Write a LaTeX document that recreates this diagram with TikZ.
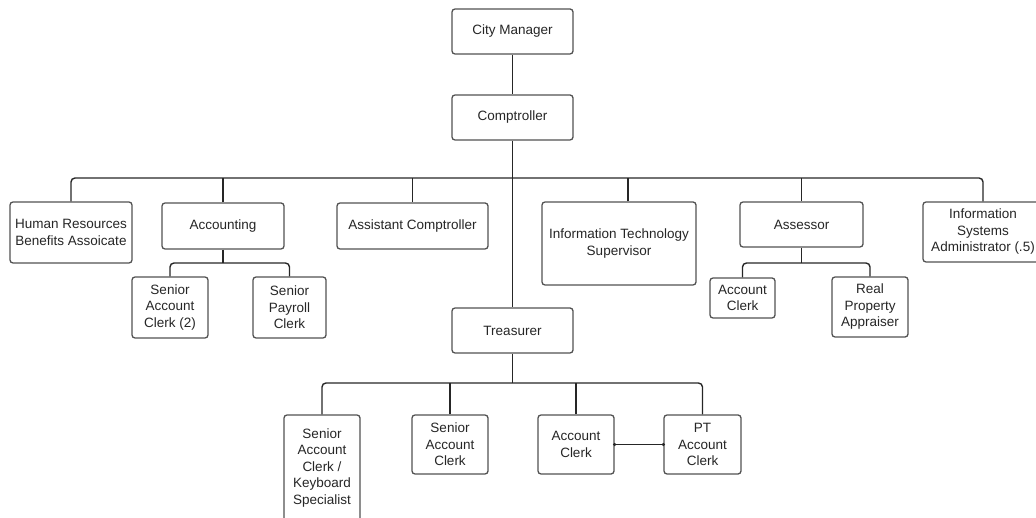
\documentclass[tikz,border=0pt]{standalone}
\usepackage{fontspec}
\setmainfont{Liberation Sans}
\begin{document}
\begin{tikzpicture}[x=1pt,y=-1pt,
  box/.style={draw=black!68, line width=1.3pt, rounded corners=3pt, fill=white,
    align=center, text=black!85, font=\fontsize{13.5}{16.5}\selectfont, inner sep=0pt},
  link/.style={draw=black!85, line width=1.4pt, rounded corners=4pt},
  joint/.style={fill=black!85, circle, inner sep=0pt, minimum size=3.5pt}]
\useasboundingbox (0,0) rectangle (1036,518);

% top of the hierarchy
\node[box, minimum width=121, minimum height=45] (cm) at (512.5,31.5) {City Manager};
\node[box, minimum width=121, minimum height=45] (comp) at (512.5,117.5) {Comptroller};

% departments under the comptroller
\node[box, minimum width=122, minimum height=61] (hr) at (71,232.5) {Human Resources\\Benefits Assoicate};
\node[box, minimum width=122, minimum height=46] (acc) at (223,226) {Accounting};
\node[box, minimum width=151, minimum height=46] (asst) at (412.5,226) {Assistant Comptroller};
\node[box, minimum width=154, minimum height=83] (its) at (619,243.5) {Information Technology\\Supervisor};
\node[box, minimum width=123, minimum height=45] (ass) at (801.5,224.5) {Assessor};
\node[box, minimum width=120, minimum height=60] (isa) at (983,232) {Information\\Systems\\Administrator (.5)};

% accounting staff
\node[box, minimum width=76, minimum height=61] (sac2) at (170,307.5) {Senior\\Account\\Clerk (2)};
\node[box, minimum width=73, minimum height=61] (spc) at (289.5,307.5) {Senior\\Payroll\\Clerk};

% assessor staff
\node[box, minimum width=65, minimum height=40] (aac) at (742.5,298) {Account\\Clerk};
\node[box, minimum width=76, minimum height=60] (rpa) at (870,307) {Real\\Property\\Appraiser};

% treasurer and staff
\node[box, minimum width=121, minimum height=45] (treas) at (512.5,330.5) {Treasurer};
\node[box, minimum width=76, minimum height=106] (sacks) at (322,468) {Senior\\Account\\Clerk /\\Keyboard\\Specialist};
\node[box, minimum width=76, minimum height=59] (tsac) at (450,444.5) {Senior\\Account\\Clerk};
\node[box, minimum width=76, minimum height=59] (tac) at (576,444.5) {Account\\Clerk};
\node[box, minimum width=77, minimum height=59] (tpt) at (702.5,444.5) {PT\\Account\\Clerk};

% connectors
\draw[link] (cm.south) -- (comp.north);
\draw[link] (comp.south) -- (treas.north);
\coordinate (busL) at (0,178);
\draw[link] (hr.north) |- (isa.north |- busL) -- (isa.north);
\draw[link] (acc.north) -- (acc.north |- busL);
\draw[link] (asst.north) -- (asst.north |- busL);
\draw[link] ([xshift=9pt]its.north) -- ([xshift=9pt]its.north |- busL);
\draw[link] (ass.north) -- (ass.north |- busL);

\coordinate (busA) at (0,263);
\draw[link] (acc.south) -- (acc.south |- busA);
\draw[link] (sac2.north) |- (spc.north |- busA) -- (spc.north);

\draw[link] (ass.south) -- (ass.south |- busA);
\draw[link] (aac.north) |- (rpa.north |- busA) -- (rpa.north);

\coordinate (busT) at (0,383);
\draw[link] (treas.south) -- (treas.south |- busT);
\draw[link] (sacks.north) |- (tpt.north |- busT) -- (tpt.north);
\draw[link] (tsac.north) -- (tsac.north |- busT);
\draw[link] (tac.north) -- (tac.north |- busT);

\draw[link] (tac.east) -- (tpt.west);
\node[joint] at (tac.east) {};
\node[joint] at (tpt.west) {};
\end{tikzpicture}
\end{document}
